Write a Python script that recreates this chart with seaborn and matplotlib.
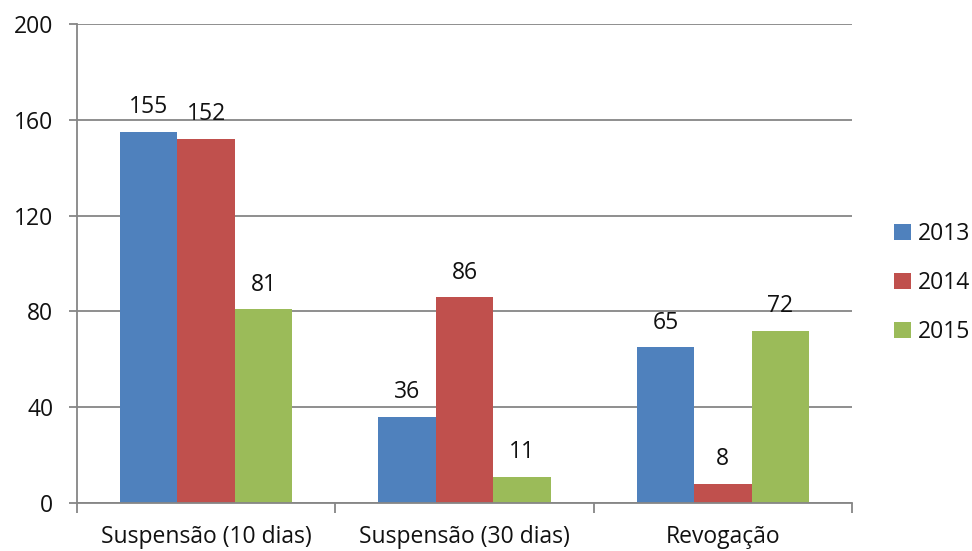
import matplotlib
matplotlib.use("Agg")
import matplotlib.pyplot as plt
import seaborn as sns
import pandas as pd
from matplotlib.ticker import FixedLocator

categories = ["Suspensão (10 dias)", "Suspensão (30 dias)", "Revogação"]
years = ["2013", "2014", "2015"]
values_2013 = [155, 36, 65]
values_2014 = [152, 86, 8]
values_2015 = [81, 11, 72]
y_ticks = [0, 40, 80, 120, 160, 200]

colors = ["#4F81BD", "#C0504D", "#9BBB59"]
grid_color = "#868686"
text_color = "#111111"
fs = 16.5

df = pd.DataFrame({
    "categoria": categories * 3,
    "ano": [y for y in years for _ in categories],
    "valor": values_2013 + values_2014 + values_2015,
})

sns.set_theme(style="white")
plt.rcParams["font.family"] = ["Open Sans", "DejaVu Sans"]

fig = plt.figure(figsize=(9.72, 5.51), dpi=100)
ax = fig.add_axes([77 / 972, 1 - 503 / 551, (852 - 77) / 972, (503 - 24) / 551])

sns.barplot(data=df, x="categoria", y="valor", hue="ano", order=categories,
            hue_order=years, palette=colors, width=2 / 3, saturation=1,
            edgecolor="none", linewidth=0, ax=ax)

for cont in ax.containers:
    ax.bar_label(cont, padding=9, fontsize=fs, color=text_color)

ax.set_xlim(-0.5, 2.5)
ax.set_ylim(0, 200)
ax.set_yticks(y_ticks)
ax.yaxis.grid(True, color=grid_color, linewidth=1.3)
ax.set_axisbelow(True)

ax.set_xlabel("")
ax.set_ylabel("")
ax.xaxis.set_minor_locator(FixedLocator([-0.5, 0.5, 1.5, 2.5]))
ax.tick_params(axis="x", which="major", length=0, pad=16, labelsize=fs, labelcolor=text_color)
ax.tick_params(axis="x", which="minor", length=7, width=1.3, color=grid_color, direction="out", bottom=True)
ax.tick_params(axis="y", length=6, width=1.3, color=grid_color, direction="out", pad=11,
               labelsize=fs, labelcolor=text_color, left=True)

for side in ["top", "right"]:
    ax.spines[side].set_visible(False)
for side in ["left", "bottom"]:
    ax.spines[side].set_color(grid_color)
    ax.spines[side].set_linewidth(1.3)

leg = ax.legend(loc="center left", bbox_to_anchor=(894 / 972, 1 - 283 / 551),
                bbox_transform=fig.transFigure, frameon=False, fontsize=fs,
                handlelength=0.75, handleheight=0.7, labelspacing=1.08, handletextpad=0.3,
                borderaxespad=0, borderpad=0)
for t in leg.get_texts():
    t.set_color(text_color)

fig.savefig("out.png", dpi=100)
